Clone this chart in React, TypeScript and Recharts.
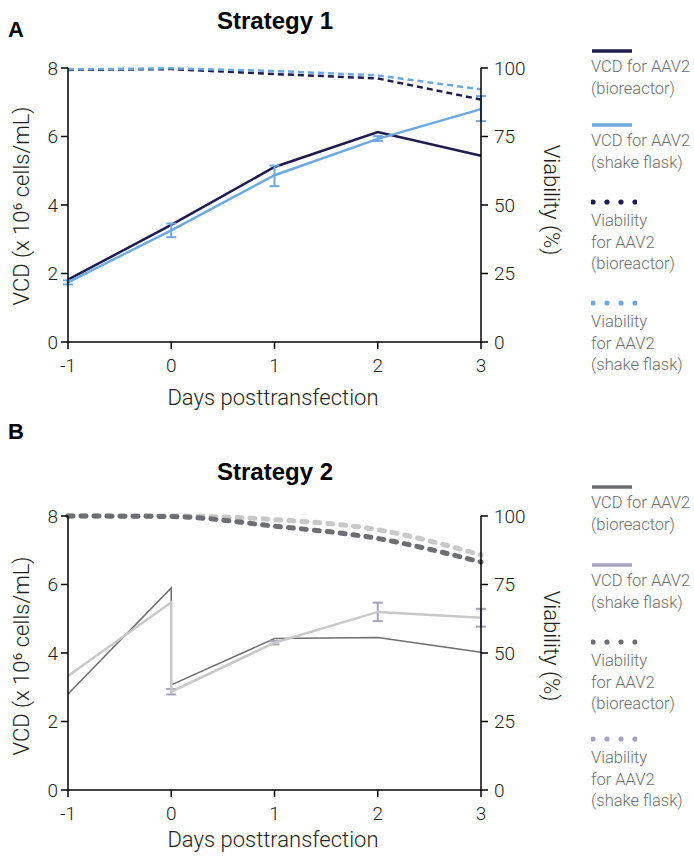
import React from "react";
import { ErrorBar, Line, LineChart, XAxis, YAxis } from "recharts";

// ---- data ----
const days = [-1, 0, 1, 2, 3];

// Strategy 1
const s1VcdBioreactor = [1.82, 3.42, 5.11, 6.13, 5.44];
const s1VcdShake = [1.74, 3.26, 4.87, 5.93, 6.8];
const s1VcdShakeErr = [
  [0.06, 0.06],
  [0.2, 0.2],
  [0.32, 0.28],
  [0.06, 0.08],
  [0.35, 0.38],
];
const s1ViaBioreactor = [99.3, 99.6, 97.8, 96.2, 88.5];
const s1ViaShake = [99.5, 99.9, 98.9, 97.3, 92.2];

// Strategy 2 (medium exchange at day 0 -> two values at x = 0)
const s2VcdDays = [-1, 0, 0, 1, 2, 3];
const s2VcdBioreactor = [2.8, 5.9, 3.07, 4.42, 4.45, 4.02];
const s2VcdShake = [3.33, 5.48, 2.87, 4.3, 5.2, 5.03];
const s2VcdShakeErr = [null, null, [0.08, 0.08], [0.05, 0.05], [0.27, 0.27], [0.26, 0.26]];
const s2ViaBioreactor = [100, 99.8, 96.3, 91.8, 83.2];
const s2ViaShake = [100, 100, 98.7, 95.0, 85.8];

const vcdTicks = [0, 2, 4, 6, 8];
const viaTicks = [0, 25, 50, 75, 100];

const FONT = "Roboto, 'Liberation Sans', Arial, sans-serif";
const BOLD_FONT = "'Liberation Sans', Arial, sans-serif";
const NAVY = "#1e1b4d";
const SKY = "#6ea9de";
const DARK_GRAY = "#6d6e71";
const LIGHT_GRAY = "#c8c8c8";
const PURPLE_GRAY = "#a6a2c0";
const LEGEND_TEXT = "#6d6e71";

function toPoints(xs: number[], ys: number[], errs?: (number[] | null)[]) {
  return xs.map((x, i) => ({ x, y: ys[i], err: errs && errs[i] ? errs[i] : undefined }));
}

const tickStyle = { fill: "#231f20", fontSize: 19, fontFamily: FONT, fontWeight: 300 };
const axisLine = { stroke: "#000", strokeWidth: 1.5 };

function Rotated({ text, cx, cy, angle }: { text: string; cx: number; cy: number; angle: number }) {
  return (
    <div
      style={{
        position: "absolute",
        left: cx,
        top: cy,
        transform: `translate(-50%, -50%) rotate(${angle}deg)`,
        whiteSpace: "nowrap",
        fontSize: 22,
        fontWeight: 300,
        color: "#231f20",
        lineHeight: 1,
      }}
    >
      {text}
    </div>
  );
}

function Centered({ text, cx, cy, size, bold }: { text: string; cx: number; cy: number; size: number; bold?: boolean }) {
  return (
    <div
      style={{
        position: "absolute",
        left: cx,
        top: cy,
        transform: "translate(-50%, -50%)",
        fontSize: size,
        fontWeight: bold ? 700 : 300,
        fontFamily: bold ? BOLD_FONT : FONT,
        color: bold ? "#000" : "#231f20",
        whiteSpace: "nowrap",
        lineHeight: 1,
      }}
    >
      {text}
    </div>
  );
}

type LegendItem = { kind: "line" | "dots"; color: string; lines: string[]; top: number };

function LegendBlock({ items }: { items: LegendItem[] }) {
  return (
    <>
      {items.map((it, i) => (
        <div key={i} style={{ position: "absolute", left: 591, top: it.top }}>
          <svg width={46} height={8} style={{ display: "block" }}>
            {it.kind === "line" ? (
              <line x1={1} x2={41} y1={4} y2={4} stroke={it.color} strokeWidth={3.5} />
            ) : (
              [3, 17, 31, 45].map((cx) => <circle key={cx} cx={cx - 1} cy={4} r={2.6} fill={it.color} />)
            )}
          </svg>
          <div
            style={{
              marginTop: it.kind === "line" ? 1 : 4,
              fontSize: 16.5,
              lineHeight: "21.5px",
              color: LEGEND_TEXT,
              fontWeight: 300,
              whiteSpace: "nowrap",
            }}
          >
            {it.lines.map((l) => (
              <div key={l}>{l}</div>
            ))}
          </div>
        </div>
      ))}
    </>
  );
}

const legendA: LegendItem[] = [
  { kind: "line", color: NAVY, lines: ["VCD for AAV2", "(bioreactor)"], top: 47 },
  { kind: "line", color: SKY, lines: ["VCD for AAV2", "(shake flask)"], top: 121 },
  { kind: "dots", color: NAVY, lines: ["Viability", "for AAV2", "(bioreactor)"], top: 198 },
  { kind: "dots", color: SKY, lines: ["Viability", "for AAV2", "(shake flask)"], top: 299 },
];

const legendB: LegendItem[] = [
  { kind: "line", color: DARK_GRAY, lines: ["VCD for AAV2", "(bioreactor)"], top: 483 },
  { kind: "line", color: PURPLE_GRAY, lines: ["VCD for AAV2", "(shake flask)"], top: 561 },
  { kind: "dots", color: DARK_GRAY, lines: ["Viability", "for AAV2", "(bioreactor)"], top: 638 },
  { kind: "dots", color: PURPLE_GRAY, lines: ["Viability", "for AAV2", "(shake flask)"], top: 735 },
];

export default function App() {
  const xAxis = (
    <XAxis
      type="number"
      dataKey="x"
      domain={[-1, 3]}
      ticks={days}
      tick={tickStyle}
      tickLine={axisLine}
      axisLine={axisLine}
      tickSize={7}
      tickMargin={10}
      height={30}
      allowDuplicatedCategory
    />
  );
  const leftAxis = (
    <YAxis
      yAxisId="vcd"
      domain={[0, 8]}
      ticks={vcdTicks}
      tick={tickStyle}
      tickLine={axisLine}
      axisLine={axisLine}
      tickSize={7}
      tickMargin={3}
      width={60}
    />
  );
  const rightAxis = (
    <YAxis
      yAxisId="via"
      orientation="right"
      domain={[0, 100]}
      ticks={viaTicks}
      tick={tickStyle}
      tickLine={axisLine}
      axisLine={axisLine}
      tickSize={7}
      tickMargin={6}
      width={60}
    />
  );

  return (
    <div
      style={{
        position: "absolute",
        left: 0,
        top: 0,
        width: 694,
        height: 857,
        background: "#fff",
        fontFamily: FONT,
        overflow: "hidden",
      }}
    >
      {/* Panel A */}
      <Centered text="A" cx={16} cy={30} size={22} bold />
      <Centered text="Strategy 1" cx={275} cy={21} size={24} bold />
      <div style={{ position: "absolute", left: 0, top: 0 }}>
        <LineChart width={694} height={420} margin={{ top: 68, right: 153, bottom: 48, left: 8 }}>
          {xAxis}
          {leftAxis}
          {rightAxis}
          <Line
            yAxisId="via"
            data={toPoints(days, s1ViaBioreactor)}
            dataKey="y"
            stroke={NAVY}
            strokeWidth={2.5}
            strokeDasharray="6 4"
            dot={false}
            isAnimationActive={false}
          />
          <Line
            yAxisId="via"
            data={toPoints(days, s1ViaShake)}
            dataKey="y"
            stroke={SKY}
            strokeWidth={2.5}
            strokeDasharray="6 4"
            dot={false}
            isAnimationActive={false}
          />
          <Line
            yAxisId="vcd"
            data={toPoints(days, s1VcdBioreactor)}
            dataKey="y"
            stroke={NAVY}
            strokeWidth={2.5}
            dot={false}
            isAnimationActive={false}
          />
          <Line
            yAxisId="vcd"
            data={toPoints(days, s1VcdShake, s1VcdShakeErr)}
            dataKey="y"
            stroke={SKY}
            strokeWidth={2.5}
            dot={false}
            isAnimationActive={false}
          >
            <ErrorBar dataKey="err" direction="y" width={5} stroke={SKY} strokeWidth={2} isAnimationActive={false} />
          </Line>
        </LineChart>
      </div>
      <Rotated text="VCD (x 10⁶ cells/mL)" cx={22} cy={206} angle={-90} />
      <Rotated text="Viability (%)" cx={551} cy={200} angle={90} />
      <Centered text="Days posttransfection" cx={273} cy={398} size={22} />
      <LegendBlock items={legendA} />

      {/* Panel B */}
      <Centered text="B" cx={16} cy={432} size={22} bold />
      <Centered text="Strategy 2" cx={275} cy={472} size={24} bold />
      <div style={{ position: "absolute", left: 0, top: 430 }}>
        <LineChart width={694} height={427} margin={{ top: 86, right: 153, bottom: 37, left: 8 }}>
          {xAxis}
          {leftAxis}
          {rightAxis}
          <Line
            yAxisId="via"
            type="monotone"
            data={toPoints(days, s2ViaShake)}
            dataKey="y"
            stroke={LIGHT_GRAY}
            strokeWidth={5}
            strokeDasharray="5 8"
            strokeLinecap="round"
            dot={false}
            isAnimationActive={false}
          />
          <Line
            yAxisId="via"
            type="monotone"
            data={toPoints(days, s2ViaBioreactor)}
            dataKey="y"
            stroke={DARK_GRAY}
            strokeWidth={5}
            strokeDasharray="5 8"
            strokeLinecap="round"
            dot={false}
            isAnimationActive={false}
          />
          <Line
            yAxisId="vcd"
            data={toPoints(s2VcdDays, s2VcdBioreactor)}
            dataKey="y"
            stroke={DARK_GRAY}
            strokeWidth={1.5}
            dot={false}
            isAnimationActive={false}
          />
          <Line
            yAxisId="vcd"
            data={toPoints(s2VcdDays, s2VcdShake, s2VcdShakeErr)}
            dataKey="y"
            stroke={LIGHT_GRAY}
            strokeWidth={2.5}
            dot={false}
            isAnimationActive={false}
          >
            <ErrorBar dataKey="err" direction="y" width={5} stroke={PURPLE_GRAY} strokeWidth={2} isAnimationActive={false} />
          </Line>
        </LineChart>
      </div>
      <Rotated text="VCD (x 10⁶ cells/mL)" cx={22} cy={656} angle={-90} />
      <Rotated text="Viability (%)" cx={551} cy={646} angle={90} />
      <Centered text="Days posttransfection" cx={273} cy={840} size={22} />
      <LegendBlock items={legendB} />
    </div>
  );
}
